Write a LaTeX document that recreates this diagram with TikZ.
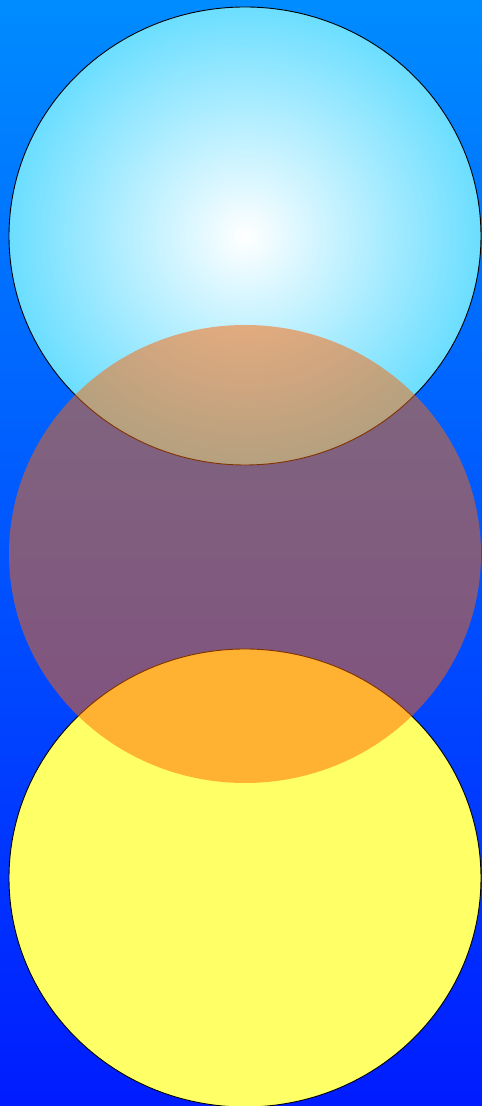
\documentclass[tikz,border=0pt]{standalone}
\definecolor{bgtop}{RGB}{0,140,255}
\definecolor{bgbottom}{RGB}{0,28,255}
\definecolor{skyedge}{RGB}{72,214,255}
\definecolor{sunyellow}{RGB}{255,255,102}
\definecolor{ambertint}{RGB}{255,100,0}
\pgfdeclareradialshading{skyglow}{\pgfpoint{0bp}{0bp}}{color(0bp)=(white); color(31bp)=(skyedge); color(50bp)=(skyedge)}
\tikzset{
  disc/.style={x radius=236, y radius=229},
  outline/.style={draw=black,line width=0.9pt}
}
\begin{document}
\begin{tikzpicture}[x=1pt,y=1pt]
  \useasboundingbox (0,0) rectangle (482,1106);
  % background
  \shade[top color=bgtop,bottom color=bgbottom] (0,0) rectangle (482,1106);
  % upper disc
  \shadedraw[shading=skyglow,outline] (245,870) ellipse [disc];
  % lower disc
  \filldraw[fill=sunyellow,outline] (245,228) ellipse [disc];
  % middle disc, see-through
  \fill[ambertint,fill opacity=0.5] (245,552) ellipse [disc];
\end{tikzpicture}
\end{document}
